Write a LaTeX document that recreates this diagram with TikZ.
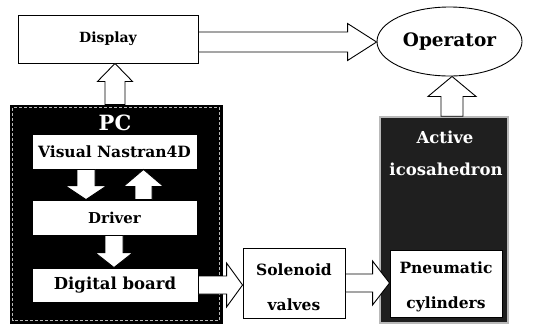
\documentclass[tikz,border=0pt]{standalone}
\usepackage{fontspec}
\setmainfont{DejaVu Serif}
\usetikzlibrary{calc,shapes.geometric}
\tikzset{
  box/.style 2 args={draw=black, fill=white, line width=0.9pt, inner sep=0pt,
    minimum width=#1, minimum height=#2, align=center},
  blk/.style={draw=black, fill=white, line width=0.9pt, line join=miter},
  lbl/.style={font=\bfseries\fontsize{15}{18}\selectfont},
  lbltwo/.style={align=center, inner sep=0pt, font=\bfseries\fontsize{15.5}{35}\selectfont},
  dark/.style={text=white, font=\bfseries\fontsize{16.5}{20}\selectfont},
}
\newcommand\rarrow[5]{%
  \draw[blk] let \p1=(#1), \p2=(#2) in
    (\x1,\y1-#3) -- (\x2-#5,\y1-#3) -- (\x2-#5,\y1-#4) -- (\x2,\y1)
    -- (\x2-#5,\y1+#4) -- (\x2-#5,\y1+#3) -- (\x1,\y1+#3) -- cycle;}
\newcommand\varrow[5]{%
  \draw[blk] let \p1=(#1), \p2=(#2), \n1={sign(\y2-\y1)} in
    (\x1-#3,\y1) -- (\x1-#3,\y2-\n1*#5) -- (\x1-#4,\y2-\n1*#5) -- (\x1,\y2)
    -- (\x1+#4,\y2-\n1*#5) -- (\x1+#3,\y2-\n1*#5) -- (\x1+#3,\y1) -- cycle;}
\begin{document}
\begin{tikzpicture}[x=1pt,y=-1pt]
\useasboundingbox (0,0) rectangle (535,325);
% containers
\node[box={212pt}{218pt}, fill=black] (pc) at (116,214) {};
\draw[gray!55, densely dashed, line width=0.6pt]
  ([shift={(3pt,-3pt)}]pc.north west) rectangle ([shift={(-3pt,3pt)}]pc.south east);
\node[box={128pt}{206pt}, fill=black!88, draw=gray!55, line width=1.6pt] (act) at (444,220) {};
% nodes
\node[box={180pt}{48pt}, font=\bfseries\fontsize{14}{16}\selectfont] (disp) at (108,39) {Display};
\node[draw=black, fill=white, line width=0.9pt, ellipse, minimum width=145pt,
  minimum height=69pt, inner sep=0pt, font=\bfseries\fontsize{18.5}{22}\selectfont] (op) at (449.5,41.5) {Operator};
\node[dark, font=\bfseries\fontsize{21}{24}\selectfont] (pclbl) at (115,123) {PC};
\node[box={165pt}{35pt}, lbl, font=\bfseries\fontsize{15.5}{18}\selectfont] (vn) at (114.5,151.5) {Visual Nastran4D};
\node[box={165pt}{35pt}, lbl] (drv) at (114.5,217.5) {Driver};
\node[box={166pt}{34pt}, lbl, font=\bfseries\fontsize{16.5}{18}\selectfont] (dig) at (115,285) {Digital board};
\node[box={102pt}{70pt}] (sol) at (294,283) {};
\node[lbltwo] (soltext) at (294,287) {Solenoid\\valves};
\node[dark] (actlbl) at (445,137) {Active};
\node[dark] (icolbl) at (446,169) {icosahedron};
\node[box={112pt}{67pt}] (pn) at (446,283.5) {};
\node[lbltwo] (pntext) at (446,287) {Pneumatic\\cylinders};
% block arrows
\rarrow{[yshift=-3pt]disp.east}{op.west}{10pt}{18.5pt}{29pt}
\varrow{[xshift=-1pt]pc.north}{disp.south}{10pt}{17.5pt}{18pt}
\varrow{[xshift=-28.5pt]vn.south}{drv.north}{9pt}{21pt}{14pt}
\varrow{[xshift=29pt]drv.north}{vn.south}{8.5pt}{20pt}{17pt}
\varrow{[xshift=-0.5pt]drv.south}{dig.north}{9pt}{19pt}{15pt}
\rarrow{dig.east}{sol.west}{9pt}{22pt}{16pt}
\rarrow{sol.east}{pn.west}{9pt}{22pt}{17pt}
\varrow{[xshift=8pt]act.north}{[xshift=2.5pt]op.south}{11pt}{24pt}{20pt}
\end{tikzpicture}
\end{document}
